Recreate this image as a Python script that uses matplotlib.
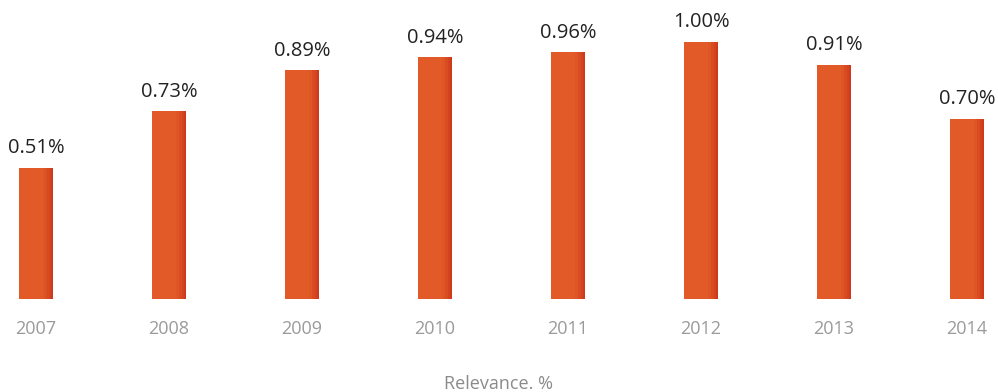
import matplotlib
matplotlib.use("Agg")
import matplotlib.pyplot as plt
import numpy as np

years = ["2007", "2008", "2009", "2010", "2011", "2012", "2013", "2014"]
values = [0.51, 0.73, 0.89, 0.94, 0.96, 1.00, 0.91, 0.70]
labels = ["0.51%", "0.73%", "0.89%", "0.94%", "0.96%", "1.00%", "0.91%", "0.70%"]
xlabel = "Relevance. %"

plt.rcParams['font.family'] = ['Open Sans', 'DejaVu Sans']

fig = plt.figure(figsize=(9.98, 3.92), dpi=100)
ax = fig.add_axes([0, (392 - 299) / 392, 1, 299 / 392])

x = np.arange(len(years))
w = 0.263
base = "#E15A27"
ax.bar(x, values, width=w, color=base, edgecolor="none", zorder=2)
# right-edge shading gradient
shades = ["#DE5526", "#D94C22", "#D4431F", "#CE3A1B"]
fracs = [0.30, 0.20, 0.12, 0.06]
for c, f in zip(shades, fracs):
    ax.bar(x + w / 2 - f * w / 2, values, width=f * w, color=c, edgecolor="none", zorder=3)

for xi, v, lab in zip(x, values, labels):
    ax.annotate(lab, (xi, v), xytext=(0, 7), textcoords="offset points",
                ha="center", va="bottom", fontsize=14.5, color="#222222")

ax.set_xlim(-36 / 133, 7 + 31 / 133)
ax.set_ylim(0, 299 / 257)
for s in ax.spines.values():
    s.set_visible(False)
ax.set_yticks([])
ax.set_xticks(x)
ax.set_xticklabels(years, fontsize=13, color="#9a9a9a")
ax.tick_params(axis="x", length=0, pad=15)

fig.text(0.5, 1 - 384 / 392, xlabel, ha="center", va="center", fontsize=13, color="#8a8a8a")

fig.savefig("out.png", dpi=100)
